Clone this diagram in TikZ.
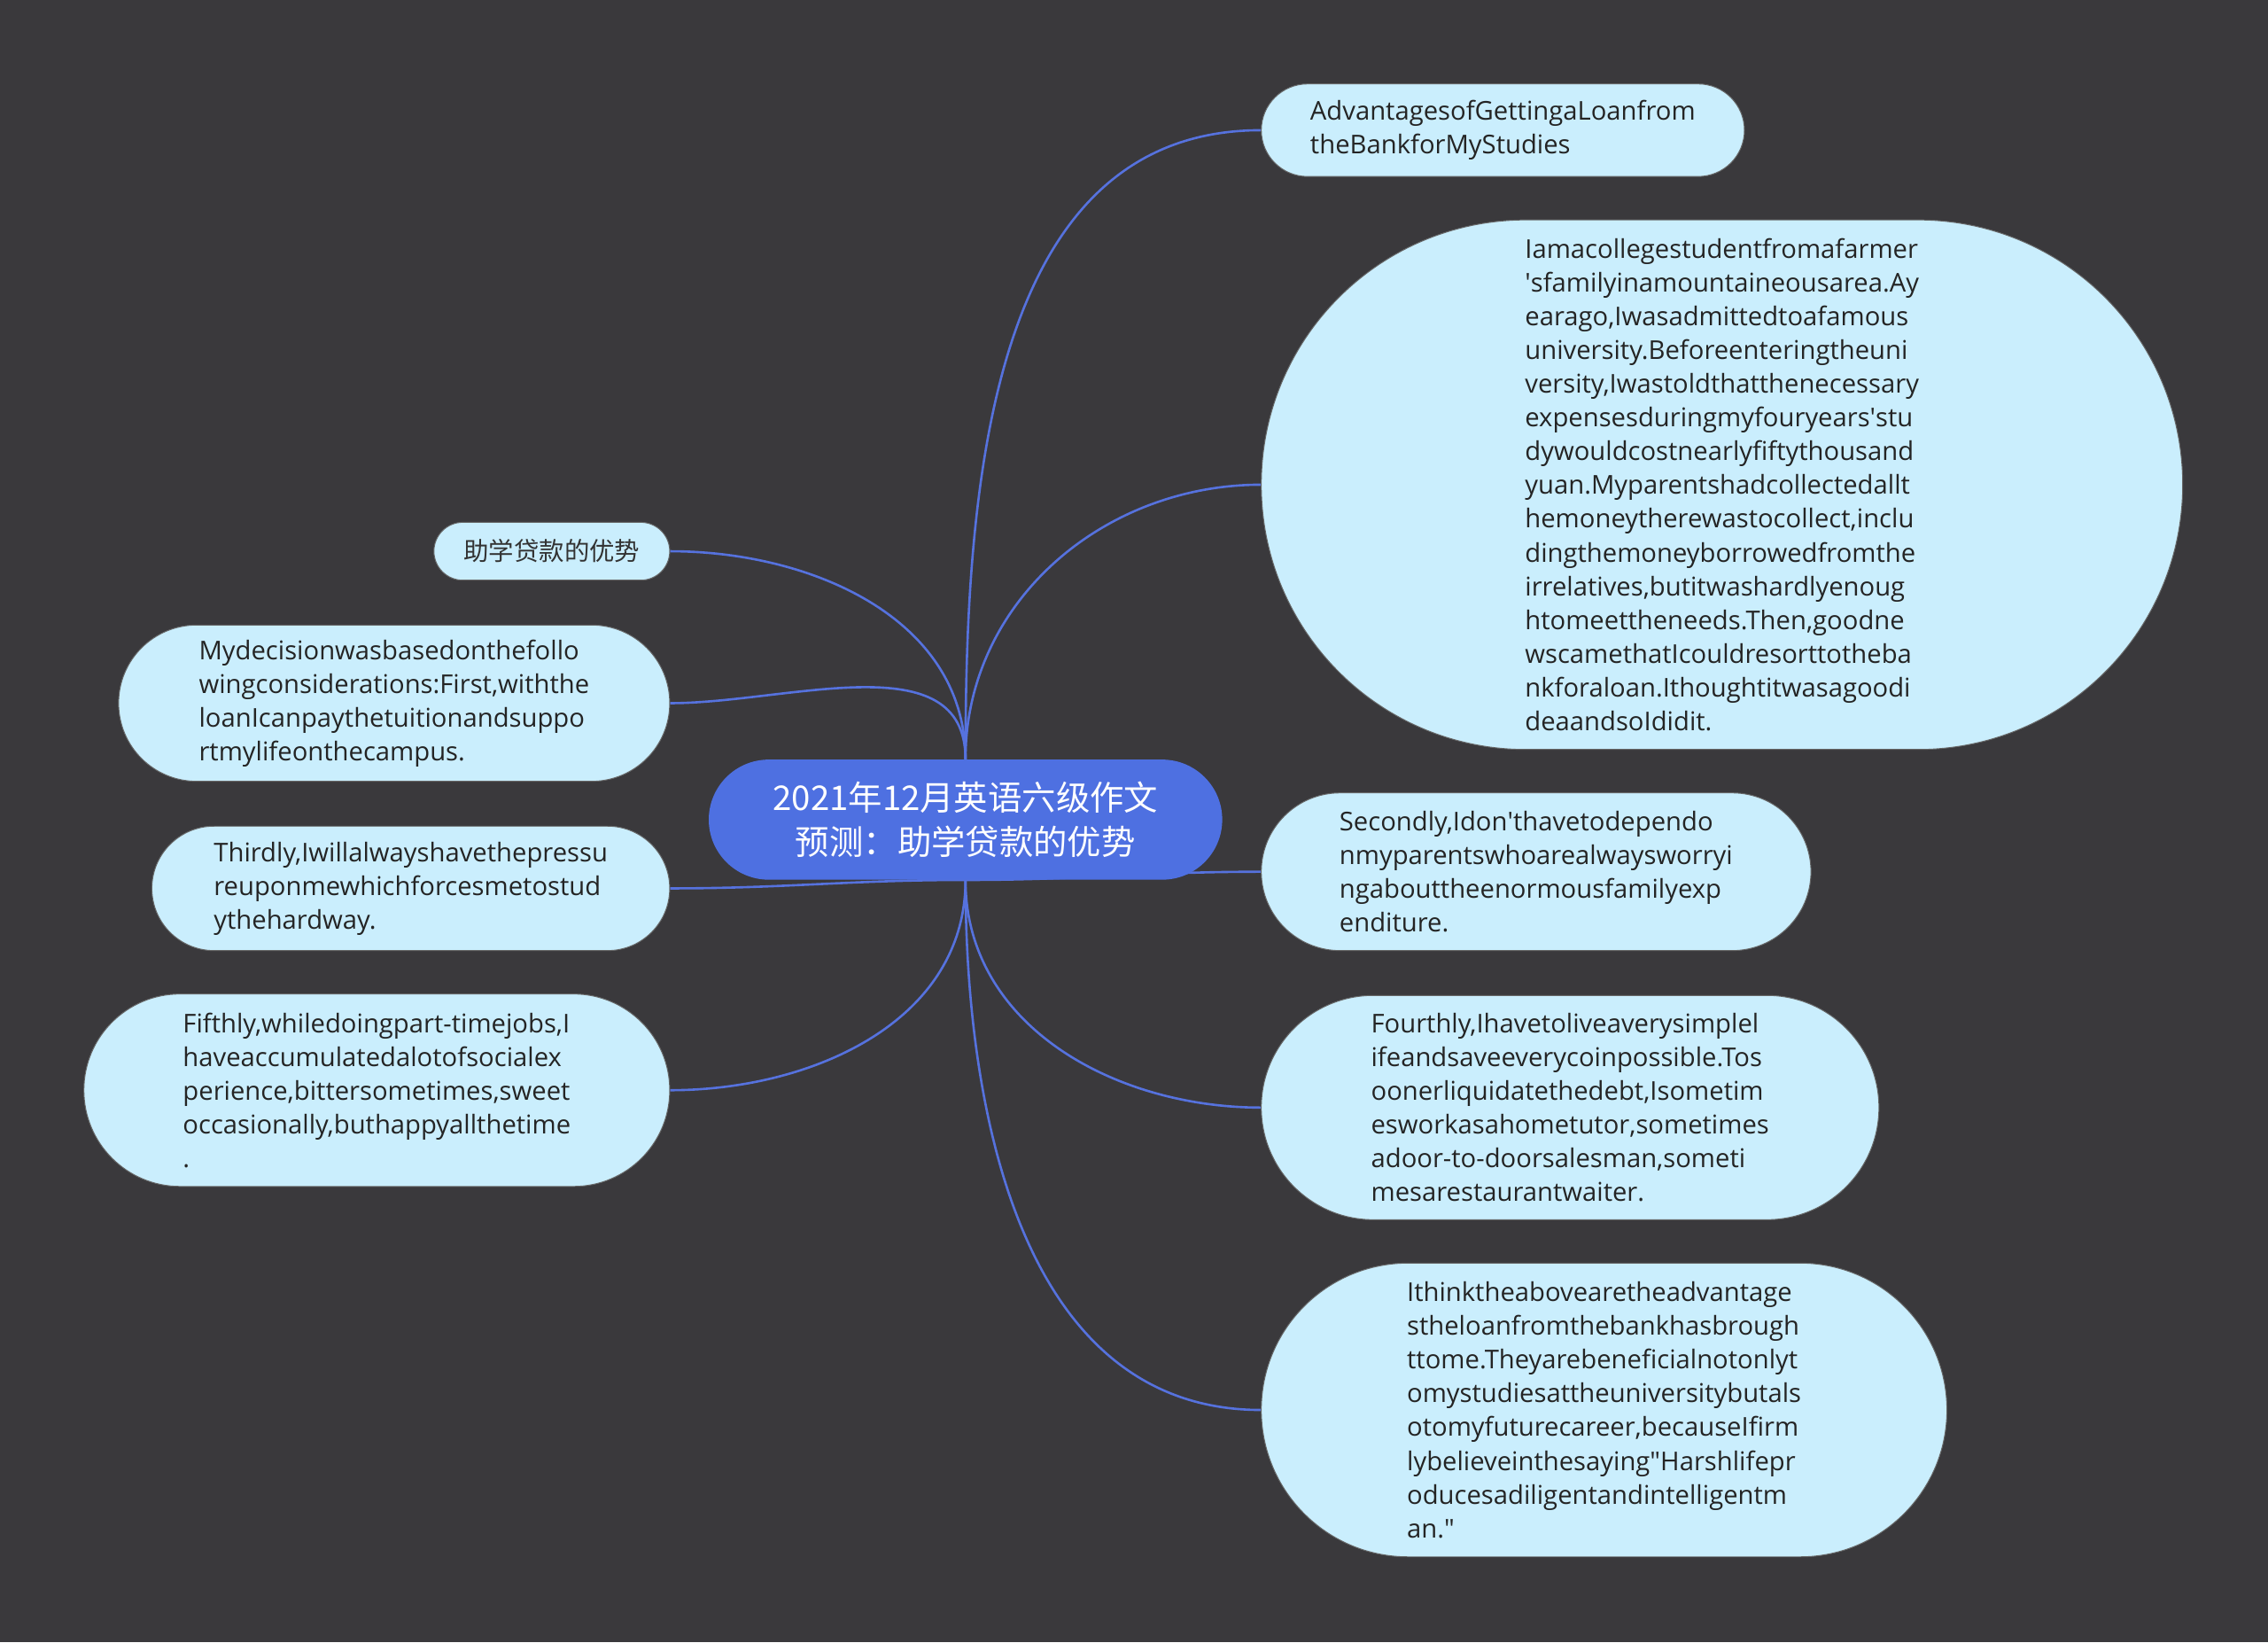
\documentclass[tikz,border=0pt]{standalone}
\usepackage{fontspec}
\setmainfont{Open Sans}
\newfontfamily\cjkfont{Noto Sans CJK SC}
\usetikzlibrary{shapes.misc,backgrounds}
\definecolor{bgdark}{RGB}{58,57,60}
\definecolor{rootblue}{RGB}{78,112,225}
\definecolor{linkblue}{RGB}{86,114,222}
\definecolor{leafblue}{RGB}{202,238,253}
\definecolor{leaftext}{RGB}{36,36,36}

\begin{document}
\begin{tikzpicture}[x=1pt,y=-1pt,
        leaf/.style={rounded rectangle,draw=black!60,line width=0.6pt,fill=leafblue,text=leaftext,align=left,inner sep=0pt,font=\fontsize{17.9}{23.3}\selectfont},
        link/.style={draw=linkblue,line width=1.6pt}]
            \useasboundingbox (0,0) rectangle (1568,1135);
            \node [rounded rectangle,fill=rootblue,text=white,align=center,minimum width=355,minimum height=83,inner sep=0pt,font=\cjkfont\fontsize{23.5}{31}\selectfont] (root) at (667.5,566.5) {2021年12月英语六级作文\\预测：助学贷款的优势};

            \node [leaf,minimum width=334,minimum height=64] (adv) at (1039,90) {AdvantagesofGettingaLoanfrom\\theBankforMyStudies};
            \node [leaf,minimum width=637,minimum height=366] (intro) at (1190.5,335) {Iamacollegestudentfromafarmer\\\textquotesingle sfamilyinamountaineousarea.Ay\\earago,Iwasadmittedtoafamous\\university.Beforeenteringtheuni\\versity,Iwastoldthatthenecessary\\expensesduringmyfouryears\textquotesingle stu\\dywouldcostnearlyfiftythousand\\yuan.Myparentshadcollectedallt\\hemoneytherewastocollect,inclu\\dingthemoneyborrowedfromthe\\irrelatives,butitwashardlyenoug\\htomeettheneeds.Then,goodne\\wscamethatIcouldresorttotheba\\nkforaloan.Ithoughtitwasagoodi\\deaandsoIdidit.};
            \node [leaf,minimum width=380,minimum height=109] (second) at (1062,602.5) {Secondly,Idon\textquotesingle thavetodependo\\nmyparentswhoarealwaysworryi\\ngabouttheenormousfamilyexp\\enditure.};
            \node [leaf,minimum width=427,minimum height=155] (fourth) at (1085.5,765.5) {Fourthly,Ihavetoliveaverysimplel\\ifeandsaveeverycoinpossible.Tos\\oonerliquidatethedebt,Isometim\\esworkasahometutor,sometimes\\adoor-to-doorsalesman,someti\\mesarestaurantwaiter.};
            \node [leaf,minimum width=474,minimum height=203] (think) at (1109,974.5) {Ithinktheabovearetheadvantage\\stheloanfromthebankhasbrough\\ttome.Theyarebeneficialnotonlyt\\omystudiesattheuniversitybutals\\otomyfuturecareer,becauseIfirm\\lybelieveinthesaying\textquotedbl Harshlifepr\\oducesadiligentandintelligentm\\an.\textquotedbl};

            \node [leaf,minimum width=163,minimum height=40,text=black!80,font=\cjkfont\fontsize{17.4}{23}\selectfont] (topic) at (381.5,381) {助学贷款的优势};
            \node [leaf,minimum width=381,minimum height=108] (first) at (272.5,486) {Mydecisionwasbasedonthefollo\\wingconsiderations:First,withthe\\loanIcanpaythetuitionandsuppo\\rtmylifeonthecampus.};
            \node [leaf,minimum width=358,minimum height=86] (third) at (284,614) {Thirdly,Iwillalwayshavethepressu\\reuponmewhichforcesmetostud\\ythehardway.};
            \node [leaf,minimum width=405,minimum height=133] (fifth) at (260.5,753.5) {Fifthly,whiledoingpart-timejobs,I\\haveaccumulatedalotofsocialex\\perience,bittersometimes,sweet\\occasionally,buthappyallthetime\\.};

            % links sit under the nodes
            \begin{scope}[on background layer]
            \fill [bgdark] (0,0) rectangle (1568,1135);
            \draw [link] (root.north) to[out=90,in=180] (adv.west);
            \draw [link] (root.north) to[out=90,in=180] (intro.west);
            \draw [link] (root.south) to[out=0,in=180] (second.west);
            \draw [link] (root.south) to[out=-90,in=180] (fourth.west);
            \draw [link] (root.south) to[out=-90,in=180] (think.west);
            \draw [link] (root.north) to[out=90,in=0] (topic.east);
            \draw [link] (root.north) to[out=90,in=0] (first.east);
            \draw [link] (root.south) to[out=180,in=0] (third.east);
            \draw [link] (root.south) to[out=-90,in=0] (fifth.east);
            \end{scope}
        \end{tikzpicture}
\end{document}
